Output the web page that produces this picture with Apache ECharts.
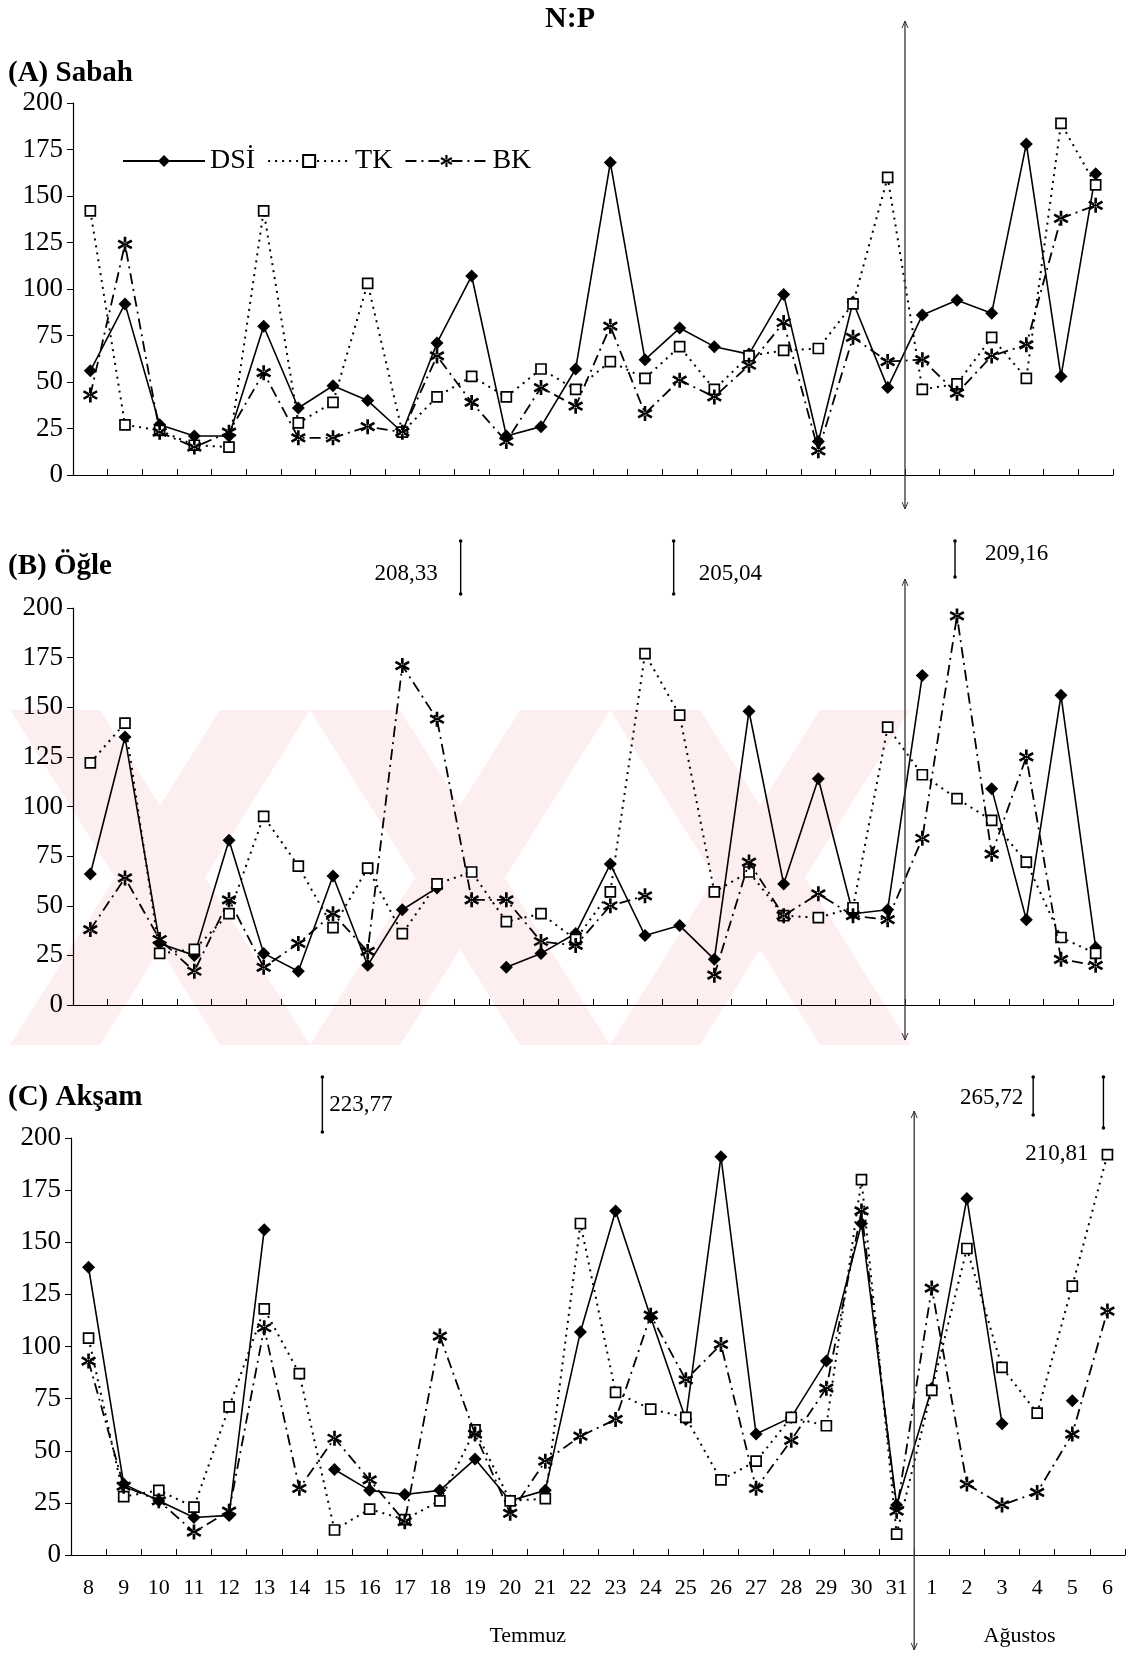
<!DOCTYPE html>
<html><head><meta charset="utf-8">
<script src="https://cdn.jsdelivr.net/npm/echarts@6/dist/echarts.min.js"></script>
<style>html,body{margin:0;padding:0;background:#fff}#c{width:1136px;height:1656px}</style>
</head><body><div id="c"></div>
<script>
// ---------------- data ----------------
const days = ['8','9','10','11','12','13','14','15','16','17','18','19','20','21','22','23','24','25','26','27','28','29','30','31','1','2','3','4','5','6'];
const monthLabels = ['Temmuz','Ağustos'];
const seriesNames = ['DSİ','TK','BK'];
const panelTitles = ['(A) Sabah','(B) Öğle','(C) Akşam'];
const yMin = 0, yMax = 200, yStep = 25;

const sabahDSI = [56,92,27,21,21,80,36,48,40,23,71,107,21,26,57,168,62,79,69,65,97,18,93,47,86,94,87,178,53,162];
const sabahTK  = [142,27,24,16,15,142,28,39,103,23,42,53,42,57,46,61,52,69,46,64,67,68,92,160,46,49,74,52,189,156];
const sabahBK  = [43,124,23,15,23,55,20,20,26,23,64,39,18,47,37,80,33,51,42,59,82,13,74,61,62,44,64,70,138,145];

const ogleDSI = [66,135,31,25,83,26,17,65,20,48,59,null,19,26,36,71,35,40,23,148,61,114,46,48,166,null,109,43,156,29];
const ogleTK  = [122,142,26,28,46,95,70,39,69,36,61,67,42,46,33,57,177,146,57,67,45,44,49,140,116,104,93,72,34,26];
const ogleBK  = [38,64,33,17,53,19,31,46,27,171,144,53,53,32,30,50,55,null,15,72,45,56,45,43,84,196,76,125,23,20];

const aksamDSI = [138,34,26,18,19,156,null,41,31,29,31,46,26,31,107,165,114,65,191,58,66,93,159,24,80,171,63,null,74,null];
const aksamTK  = [104,28,31,23,71,118,87,12,22,17,26,60,26,27,159,78,70,66,36,45,66,62,180,10,79,147,90,68,129,192];
const aksamBK  = [93,33,26,11,21,109,32,56,36,16,105,58,20,45,57,65,115,84,101,32,55,80,165,21,128,34,24,30,58,117];

// off-scale values (drawn as gaps, noted above the panel)
const offPanel = [1,1,1,2,2,2];
const offDay   = ['19','25','2','14','4','6'];
const offValue = [208.33,205.04,209.16,223.77,265.72,210.81];

// ---------------- layout ----------------
const serif = "'Liberation Serif','Times New Roman',serif";
const grids = [
  {left:73, top:103, width:1040, height:372},
  {left:73, top:608, width:1040, height:397},
  {left:71, top:1138, width:1054, height:417}
];
const panelData = [[sabahDSI,sabahTK,sabahBK],[ogleDSI,ogleTK,ogleBK],[aksamDSI,aksamTK,aksamBK]];
const starPath = 'path://M-1.7,-10L1.7,-10L1.7,10L-1.7,10Z M7.81,6.47L9.51,3.53L-7.81,-6.47L-9.51,-3.53Z M9.51,-3.53L7.81,-6.47L-9.51,3.53L-7.81,6.47Z';
const styles = [
  {symbol:'diamond', symbolSize:13, itemStyle:{color:'#000'}, lineStyle:{color:'#000', width:1.6, type:'solid'}},
  {symbol:'rect', symbolSize:10, itemStyle:{color:'#fff', borderColor:'#000', borderWidth:1.7}, lineStyle:{color:'#000', width:2, type:[2,5]}},
  {symbol:starPath, symbolSize:15, itemStyle:{color:'#000'}, lineStyle:{color:'#000', width:1.8, type:[11,5,2,5]}}
];

const xAxes = grids.map((g,i)=>({
  type:'category', gridIndex:i, data:days, boundaryGap:true,
  axisLine:{show:true, lineStyle:{color:'#000', width:1.2}},
  axisTick:{show:true, inside:true, length:6, interval:0, lineStyle:{color:'#000'}},
  axisLabel:{show:i===2, interval:0, margin:22, fontFamily:serif, fontSize:22, color:'#000'},
  splitLine:{show:false}
}));
const yAxes = grids.map((g,i)=>({
  type:'value', gridIndex:i, min:yMin, max:yMax, interval:yStep,
  axisLine:{show:true, lineStyle:{color:'#000', width:1.2}},
  axisTick:{show:true, length:6, lineStyle:{color:'#000'}},
  axisLabel:{margin:10, fontFamily:serif, fontSize:27, color:'#000'},
  splitLine:{show:false}
}));
const series = [];
panelData.forEach((arr,p)=>{
  arr.forEach((d,k)=>{
    series.push(Object.assign({
      type:'line', name:seriesNames[k], xAxisIndex:p, yAxisIndex:p, data:d,
      connectNulls:false, z:3+k
    }, JSON.parse(JSON.stringify(styles[k]))));
  });
});

const chart = echarts.init(document.getElementById('c'));
chart.setOption({
  animation:false,
  backgroundColor:'#fff',
  grid:grids,
  xAxis:xAxes,
  yAxis:yAxes,
  legend:{data:seriesNames, left:117, top:142, itemWidth:82, itemHeight:15, itemGap:12, selectedMode:false,
    textStyle:{fontFamily:serif, fontSize:28, color:'#000'}},
  series:series
});

// ---------------- decorations ----------------
const gfx = [];
function txt(x,y,s,size,opt){
  gfx.push({type:'text', x:x, y:y, z:20, style:Object.assign({text:s, fontFamily:serif, fontSize:size, fill:'#000', textAlign:'left', textVerticalAlign:'middle'}, opt||{})});
}
// watermark (pale pink diagonal bands behind panel B)
const wmTop = 710, wmBot = 1045, wmFill = '#fdeef0';
for (let k=0;k<3;k++){
  const x0 = 10 + k*300;
  gfx.push({type:'polygon', z:-10, silent:true, shape:{points:[[x0,wmTop],[x0+90,wmTop],[x0+300,wmBot],[x0+210,wmBot]]}, style:{fill:wmFill}});
  gfx.push({type:'polygon', z:-10, silent:true, shape:{points:[[x0+210,wmTop],[x0+300,wmTop],[x0+90,wmBot],[x0,wmBot]]}, style:{fill:wmFill}});
}
txt(570,19,'N:P',30,{fontWeight:'bold', textAlign:'center'});
txt(8,74,panelTitles[0],29,{fontWeight:'bold'});
txt(8,567,panelTitles[1],29,{fontWeight:'bold'});
txt(8,1098,panelTitles[2],29,{fontWeight:'bold'});

// month labels
const cx = (p,d)=>chart.convertToPixel({xAxisIndex:p}, d);
const julyMid = (cx(2,'20')+cx(2,'21'))/2;
const augMid = (cx(2,'3')+cx(2,'4'))/2;
txt(julyMid,1636,monthLabels[0],22,{textAlign:'center'});
txt(augMid,1636,monthLabels[1],22,{textAlign:'center'});

// month dividers with arrows
const divY = [[21,509],[579,1040],[1111,1650]];
for (let p=0;p<3;p++){
  const x = (cx(p,'31')+cx(p,'1'))/2;
  const [y1,y2] = divY[p];
  gfx.push({type:'line', z:15, shape:{x1:x,y1:y1,x2:x,y2:y2}, style:{stroke:'#333', lineWidth:1.3}});
  gfx.push({type:'polyline', z:15, shape:{points:[[x-3,y1+7],[x,y1],[x+3,y1+7]]}, style:{stroke:'#333', lineWidth:1, fill:null}});
  gfx.push({type:'polyline', z:15, shape:{points:[[x-3,y2-7],[x,y2],[x+3,y2-7]]}, style:{stroke:'#333', lineWidth:1, fill:null}});
}

// off-scale markers
const offLayout = [
  {dx:-11, y1:-67, y2:-14, tx:-23, ty:-34, align:'right'},
  {dx:-6,  y1:-67, y2:-14, tx:25,  ty:-34, align:'left'},
  {dx:-2,  y1:-67, y2:-31, tx:30,  ty:-54, align:'left'},
  {dx:23,  y1:-61, y2:-6,  tx:7,   ty:-33, align:'left'},
  {dx:-4,  y1:-61, y2:-23, tx:-10, ty:-40, align:'right'},
  {dx:-4,  y1:-61, y2:-10, tx:-15, ty:16,  align:'right'}
];
offValue.forEach((v,i)=>{
  const p = offPanel[i], L = offLayout[i];
  const x = cx(p, offDay[i]) + L.dx;
  const top = grids[p].top;
  gfx.push({type:'line', z:15, shape:{x1:x,y1:top+L.y1,x2:x,y2:top+L.y2}, style:{stroke:'#000', lineWidth:1.4}});
  gfx.push({type:'circle', z:15, shape:{cx:x,cy:top+L.y1,r:1.8}, style:{fill:'#000'}});
  gfx.push({type:'circle', z:15, shape:{cx:x,cy:top+L.y2,r:1.8}, style:{fill:'#000'}});
  txt(x+L.tx, top+L.ty, v.toFixed(2).replace('.',','), 23, {textAlign:L.align});
});

chart.setOption({graphic:gfx});
</script></body></html>
